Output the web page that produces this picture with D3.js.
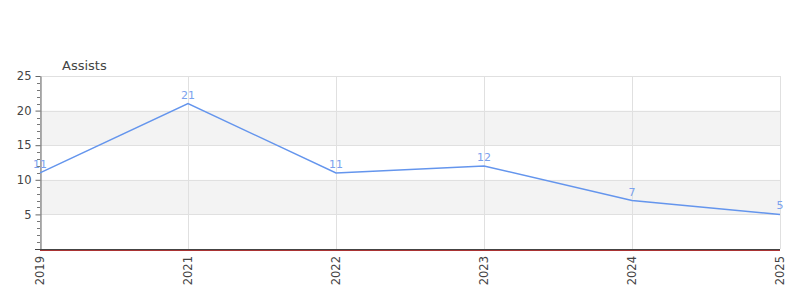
<!DOCTYPE html>
<html>
<head>
  <meta charset="utf-8">
  <title>Assists</title>
  <style>
    body { margin: 0; background: #fff; }
    svg { display: block; font-family: "DejaVu Sans", sans-serif; }
  </style>
</head>
<body>
  <svg></svg>
  <script src="https://cdn.jsdelivr.net/npm/d3@7/dist/d3.min.js"></script>
  <script>
    var years = ["2019", "2021", "2022", "2023", "2024", "2025"];
    var assists = [11, 21, 11, 12, 7, 5];
    var yTicks = [5, 10, 15, 20, 25];

    var width = 800, height = 300;
    var plotLeft = 40, plotRight = 780, plotTop = 76, plotBottom = 249;

    var svg = d3.select("svg").attr("width", width).attr("height", height);

    var x = d3.scalePoint().domain(years).range([plotLeft, plotRight]);
    var y = d3.scaleLinear().domain([0, 25]).range([plotBottom, plotTop]);

    // alternating bands
    svg.selectAll("rect.band").data([[5, 10], [15, 20]])
      .enter().append("rect")
      .attr("x", plotLeft).attr("width", plotRight - plotLeft)
      .attr("y", d => y(d[1])).attr("height", d => y(d[0]) - y(d[1]))
      .attr("fill", "#f3f3f3");

    // horizontal grid
    svg.selectAll("line.hgrid").data(yTicks)
      .enter().append("line")
      .attr("x1", plotLeft).attr("x2", plotRight)
      .attr("y1", d => Math.round(y(d)) + 0.5).attr("y2", d => Math.round(y(d)) + 0.5)
      .attr("stroke", "#e0e0e0");

    // vertical grid
    svg.selectAll("line.vgrid").data(years)
      .enter().append("line")
      .attr("x1", d => x(d) + 0.5).attr("x2", d => x(d) + 0.5)
      .attr("y1", plotTop).attr("y2", plotBottom)
      .attr("stroke", "#e0e0e0");

    // y axis
    var yAxis = svg.append("g").attr("transform", "translate(" + (plotLeft + 0.5) + ",0)")
      .call(d3.axisLeft(y).tickValues(yTicks).tickSize(5).tickSizeOuter(0));
    yAxis.select(".domain").attr("stroke", "#666");
    yAxis.selectAll(".tick line").attr("stroke", "#666");
    yAxis.selectAll("text").attr("fill", "#444").attr("font-size", 11.5).attr("font-family", "DejaVu Sans").attr("x", -9);

    // minor ticks
    var minor = d3.range(1, 25).filter(v => v % 5 !== 0);
    svg.selectAll("line.minor").data(minor)
      .enter().append("line")
      .attr("x1", plotLeft - 3).attr("x2", plotLeft)
      .attr("y1", d => Math.round(y(d)) + 0.5).attr("y2", d => Math.round(y(d)) + 0.5)
      .attr("stroke", "#777");

    // x axis line
    svg.append("line").attr("x1", plotLeft - 5).attr("x2", plotRight)
      .attr("y1", plotBottom + 0.5).attr("y2", plotBottom + 0.5).attr("stroke", "#444");
    svg.append("line").attr("x1", plotLeft).attr("x2", plotRight)
      .attr("y1", plotBottom + 1.5).attr("y2", plotBottom + 1.5).attr("stroke", "#a33");

    // x labels
    svg.selectAll("text.xlab").data(years)
      .enter().append("text")
      .attr("transform", d => "translate(" + (x(d) + 4) + "," + (plotBottom + 7) + ") rotate(-90)")
      .attr("text-anchor", "end")
      .attr("font-size", 11.5)
      .attr("fill", "#444")
      .text(d => d);

    // line
    var line = d3.line().x((d, i) => x(years[i])).y(d => y(d));
    svg.append("path").datum(assists)
      .attr("d", line)
      .attr("fill", "none")
      .attr("stroke", "#6495ed")
      .attr("stroke-width", 1.5);

    // value labels
    svg.selectAll("text.val").data(assists)
      .enter().append("text")
      .attr("x", (d, i) => x(years[i]))
      .attr("y", d => y(d) - 5)
      .attr("text-anchor", "middle")
      .attr("font-size", 11)
      .attr("fill", "#7ba2ee")
      .text(d => d);

    // title
    svg.append("text").attr("x", 62).attr("y", 70)
      .attr("font-size", 13).attr("fill", "#444").text("Assists");
  </script>
</body>
</html>
